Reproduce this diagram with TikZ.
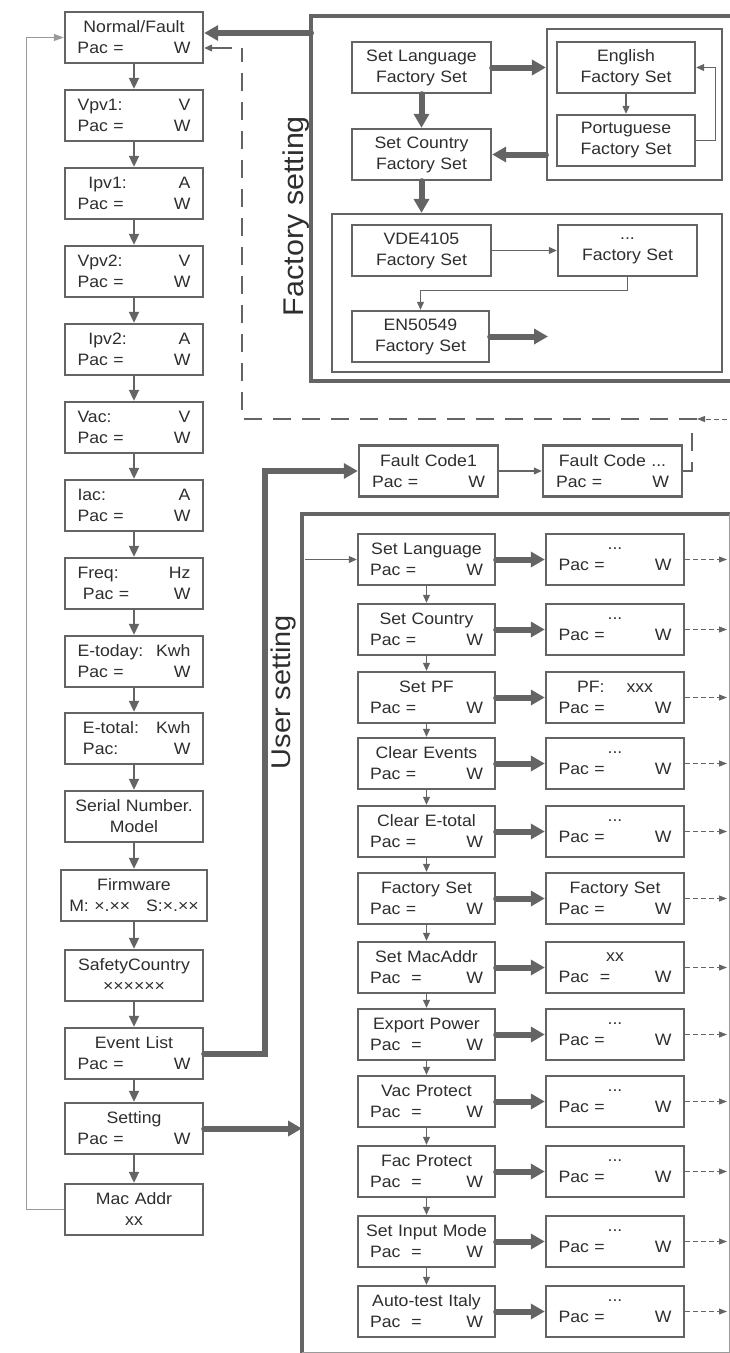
\documentclass[tikz,border=0pt]{standalone}
\usepackage{fontspec}
\setmainfont{Liberation Sans}[FakeStretch=1.07]
\usetikzlibrary{arrows.meta}
\definecolor{ln}{HTML}{646464}
\definecolor{tx}{HTML}{2e2e2e}
\definecolor{lt}{HTML}{9a9a9a}
\newcommand{\lr}[2]{\makebox[\hsize]{#1\hfill #2}}
\newcommand{\cl}[1]{\makebox[\hsize]{#1}}
\newcommand{\pw}{\lr{Pac =}{W}}
\newcommand{\ppw}{\lr{Pac\ \ =}{W}}
\begin{document}
\begin{tikzpicture}[x=1pt,y=-1pt,
  box/.style={draw=ln, line width=2.4pt, fill=white, minimum width=138pt, minimum height=51pt,
    inner sep=0pt, text width=113pt, align=center, font=\fontsize{16.5}{21}\selectfont, text=tx},
  grp/.style={draw=ln, line width=2.2pt, inner sep=0pt},
  outer/.style={draw=ln, line width=4.5pt},
  tin/.style={draw=ln, line width=2pt, -{Triangle[length=11pt,width=10pt]}},
  small/.style={draw=ln, line width=1.1pt, -{Triangle[length=8pt,width=7pt]}},
  thk/.style={draw=ln, line width=6pt, line cap=round, -{Triangle[length=14pt,width=15pt]}},
  dsh/.style={draw=ln, line width=2pt, dash pattern=on 18pt off 11pt},
  dsa/.style={draw=ln, line width=1pt, dash pattern=on 5pt off 3pt, -{Triangle[length=8pt,width=6pt]}},
  loopl/.style={draw=lt, line width=1.3pt, -{Triangle[length=10pt,width=7pt]}},
  lab/.style={rotate=90, text=tx}
]
\useasboundingbox (0,0) rectangle (730,1353);

% ---------- left column ----------
\node[box] (nf) at (134,37.5) {Normal/Fault\\\pw};
\node[box] (vpv1) at (134,115.5) {\lr{Vpv1:}{V}\\\pw};
\node[box] (ipv1) at (134,193.5) {\lr{\ \ Ipv1:}{A}\\\pw};
\node[box] (vpv2) at (134,271.5) {\lr{Vpv2:}{V}\\\pw};
\node[box] (ipv2) at (134,349.5) {\lr{\ \ Ipv2:}{A}\\\pw};
\node[box] (vac) at (134,427.5) {\lr{Vac:}{V}\\\pw};
\node[box] (iac) at (134,505.5) {\lr{Iac:}{A}\\\pw};
\node[box] (freq) at (134,583.5) {\lr{Freq:}{Hz}\\\lr{\ Pac =}{W}};
\node[box] (etd) at (134,661.5) {\lr{E-today:}{Kwh}\\\pw};
\node[box] (ett) at (134,738.5) {\lr{\ E-total:}{Kwh}\\\lr{\ Pac:}{W}};
\node[box] (sn) at (134,816.5) {\cl{Serial Number.}\\Model};
\node[box, minimum width=146pt, text width=140pt] (fw) at (134,895.5) {Firmware\\M: ×.××\hspace{16pt}S:×.××};
\node[box] (sc) at (134,975.5) {SafetyCountry\\××××××};
\node[box] (ev) at (134,1053.5) {Event List\\\pw};
\node[box] (set) at (134,1128.5) {Setting\\\pw};
\node[box] (mac) at (134,1209.5) {Mac Addr\\xx};

\foreach \a/\b in {nf/vpv1,vpv1/ipv1,ipv1/vpv2,vpv2/ipv2,ipv2/vac,vac/iac,iac/freq,freq/etd,etd/ett,ett/sn,sn/fw,fw/sc,sc/ev,ev/set,set/mac}
  \draw[tin] (\a) -- (\b);

\draw[loopl] (mac.west) -- ++(-37,0) |- (nf.west);

% ---------- factory setting ----------
\draw[outer] (740,16) -- (311,16) -- (311,381) -- (740,381);
\node[lab, font=\fontsize{28.5}{28.5}\selectfont] (lf) at (296,216) {Factory setting};

\node[grp, minimum width=175pt, minimum height=151pt] (g1) at (634.5,104.5) {};
\node[grp, minimum width=390pt, minimum height=158pt] (g2) at (527,293) {};

\node[box, minimum width=139pt] (fsl) at (421.5,67.5) {Set Language\\Factory Set};
\node[box, minimum width=139pt] (fsc) at (421.5,154.5) {Set Country\\Factory Set};
\node[box] (eng) at (626,67.5) {English\\Factory Set};
\node[box] (por) at (626,140.5) {Portuguese\\Factory Set};
\node[box, minimum width=139pt] (vde) at (421.5,250.5) {VDE4105\\Factory Set};
\node[box, minimum width=139pt] (fdots) at (627.5,250.5) {...\\Factory Set};
\node[box, minimum width=137pt] (en) at (420.5,336.5) {EN50549\\Factory Set};

\draw[small] (eng) -- (por);
\draw[small] (por.east) -- ++(19,0) |- (eng.east);
\draw[thk] (fsl.east) -- (fsl.east -| g1.west);
\draw[thk] (g1.west |- fsc.east) -- (fsc.east);
\draw[thk] (fsl.south) -- (fsc.north);
\draw[thk] (fsc.south) -- (fsc.south |- g2.north);
\draw[small] (vde) -- (fdots);
\draw[small] (fdots.south) -- ++(0,13) -| (en.north);
\coordinate (enend) at (548,336.5);
\draw[thk] (en.east) -- (enend);

% link factory -> normal
\coordinate (fsL) at (311,33);
\draw[thk] (fsL) -- (nf.east |- fsL);

% dashed return path
\coordinate (dR) at (735,419);
\coordinate (dA) at (697,419);
\coordinate (dC) at (242,419);
\coordinate (dT) at (242,48);
\coordinate (dT2) at (232,48);
\draw[dsa] (dR) -- (dA);
\draw[dsh] (dA) -- (dC) -- (dT);
\draw[small] (dT2) -- (nf.east |- dT2);

% ---------- fault codes ----------
\node[box, minimum width=139pt] (fc1) at (428.5,471) {Fault Code1\\\lr{Pac =}{W}};
\node[box, minimum width=139pt] (fc2) at (612.5,471) {Fault Code ...\\\pw};
\draw[small] (fc1) -- (fc2);
\coordinate (fcd1) at (692,471);
\coordinate (fcd2) at (692,432);
\draw[dsh] (fc2.east) -- (fcd1) -- (fcd2);

\coordinate (evb) at (265,0);
\draw[thk] (ev.east) -- (ev.east -| evb) |- (fc1.west);

% ---------- user setting ----------
\draw[outer] (740,514) -- (302,514) -- (302,1360);
\draw[draw=lt, line width=1pt] (729,514) -- (729,1352) -- (302,1352);
\node[lab, font=\fontsize{27}{27}\selectfont] (lu) at (284,692) {User setting};
\coordinate (usL) at (302,0);
\draw[thk] (set.east) -- (set.east -| usL);

\node[box, minimum width=137pt] (u1) at (426.5,559.5) {Set Language\\\pw};
\node[box, minimum width=137pt] (u2) at (426.5,629.5) {Set Country\\\pw};
\node[box, minimum width=137pt] (u3) at (426.5,697.5) {Set PF\\\pw};
\node[box, minimum width=137pt] (u4) at (426.5,763.5) {Clear Events\\\pw};
\node[box, minimum width=137pt] (u5) at (426.5,831.5) {Clear E-total\\\pw};
\node[box, minimum width=137pt] (u6) at (426.5,898.5) {Factory Set\\\pw};
\node[box, minimum width=137pt] (u7) at (426.5,967.5) {Set MacAddr\\\ppw};
\node[box, minimum width=137pt] (u8) at (426.5,1034.5) {Export Power\\\ppw};
\node[box, minimum width=137pt] (u9) at (426.5,1101.5) {Vac Protect\\\ppw};
\node[box, minimum width=137pt] (u10) at (426.5,1171.5) {Fac Protect\\\ppw};
\node[box, minimum width=137pt] (u11) at (426.5,1241.5) {\cl{Set Input Mode}\\\ppw};
\node[box, minimum width=137pt] (u12) at (426.5,1311.5) {\cl{Auto-test Italy}\\\ppw};

\node[box] (r1) at (615,559.5) {...\\\pw};
\node[box] (r2) at (615,629.5) {...\\\pw};
\node[box] (r3) at (615,697.5) {PF:\hspace{22pt}xxx\\\pw};
\node[box] (r4) at (615,763.5) {...\\\pw};
\node[box] (r5) at (615,831.5) {...\\\pw};
\node[box] (r6) at (615,898.5) {Factory Set\\\pw};
\node[box] (r7) at (615,967.5) {xx\\\ppw};
\node[box] (r8) at (615,1034.5) {...\\\pw};
\node[box] (r9) at (615,1101.5) {...\\\pw};
\node[box] (r10) at (615,1171.5) {...\\\pw};
\node[box] (r11) at (615,1241.5) {...\\\pw};
\node[box] (r12) at (615,1311.5) {...\\\pw};

\coordinate (usR) at (727,0);
\coordinate (usIn) at (305,559.5);
\draw[small] (usIn) -- (u1.west);
\foreach \i in {1,...,12}{
  \draw[thk] (u\i.east) -- (r\i.west);
  \draw[dsa] (r\i.east) -- (r\i.east -| usR);
}
\foreach \a/\b in {1/2,2/3,3/4,4/5,5/6,6/7,7/8,8/9,9/10,10/11,11/12}
  \draw[small] (u\a) -- (u\b);
\end{tikzpicture}
\end{document}
